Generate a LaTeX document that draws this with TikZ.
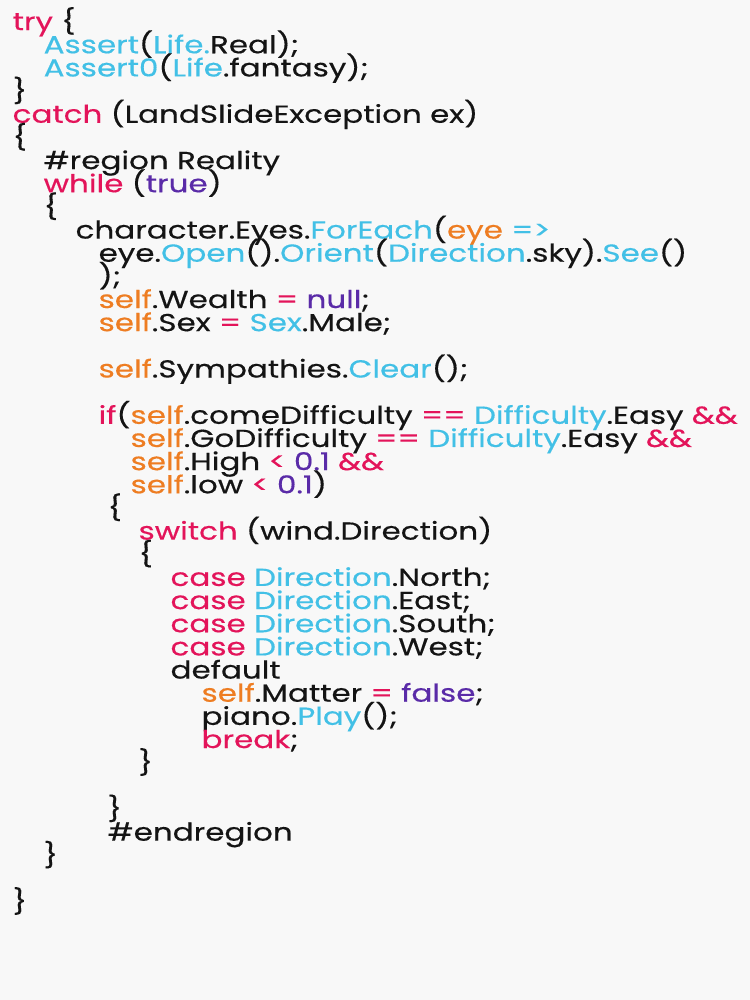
\documentclass[tikz,border=0pt]{standalone}
\usepackage{fontspec}
\setmainfont{Poppins}[FakeStretch=1.26, FakeBold=0.4]
\definecolor{bgcol}{HTML}{F8F8F8}
\definecolor{kwcol}{HTML}{E3145A}
\definecolor{tycol}{HTML}{42C0E6}
\definecolor{slcol}{HTML}{EE7D22}
\definecolor{vlcol}{HTML}{5A2BA8}
\definecolor{txcol}{HTML}{141414}
\newcommand\ckw[1]{\textcolor{kwcol}{#1}}
\newcommand\cty[1]{\textcolor{tycol}{#1}}
\newcommand\csl[1]{\textcolor{slcol}{#1}}
\newcommand\cvl[1]{\textcolor{vlcol}{#1}}
\begin{document}
\begin{tikzpicture}[x=0.01cm, y=-0.2316cm,
    code/.style={anchor=base west, inner sep=0pt, text=txcol, font=\fontsize{7}{8}\selectfont}]
  \fill[bgcol] (0,0) rectangle (750,43.18);
  \node[code] (try) at (12,1.3) {\ckw{try} \{};
  \node[code] (assert) at (43,2.3) {\cty{Assert}(\cty{Life.}Real);};
  \node[code] (assertz) at (43,3.3) {\cty{Assert0}(\cty{Life}.fantasy);};
  \node[code] (tryend) at (12,4.3) {\}};
  \node[code] (catch) at (12,5.3) {\ckw{catch} (LandSlideException ex)};
  \node[code] (catchbeg) at (12,6.3) {\{};
  \node[code] (region) at (43,7.3) {\#region Reality};
  \node[code] (while) at (43,8.3) {\ckw{while} (\cvl{true})};
  \node[code] (whilebeg) at (43,9.3) {\{};
  \node[code] (foreach) at (75,10.3) {character.Eyes.\cty{ForEach}(\csl{eye} \cty{=>}};
  \node[code] (eye) at (98,11.3) {eye.\cty{Open}().\cty{Orient}(\cty{Direction}.sky).\cty{See}()};
  \node[code] (eyeend) at (98,12.3) {);};
  \node[code] (wealth) at (98,13.3) {\csl{self}.Wealth \ckw{=} \cvl{null};};
  \node[code] (sex) at (98,14.3) {\csl{self}.Sex \ckw{=} \cty{Sex}.Male;};
  \node[code] (symp) at (98,16.3) {\csl{self}.Sympathies.\cty{Clear}();};
  % the if condition
  \node[code] (if) at (98,18.3) {\ckw{if}(\csl{self}.comeDifficulty \ckw{==} \cty{Difficulty}.Easy \ckw{\&\&}};
  \node[code] (go) at (130,19.3) {\csl{self}.GoDifficulty \ckw{==} \cty{Difficulty}.Easy \ckw{\&\&}};
  \node[code] (high) at (130,20.3) {\csl{self}.High \ckw{<} \cvl{0.1} \ckw{\&\&}};
  \node[code] (low) at (130,21.3) {\csl{self}.low \ckw{<} \cvl{0.1})};
  \node[code] (ifbeg) at (107,22.3) {\{};
  \node[code] (switch) at (138,23.3) {\ckw{switch} (wind.Direction)};
  \node[code] (switchbeg) at (138,24.3) {\{};
  \foreach \d [count=\i from 25] in {North,East,South,West}
    \node[code] (case\d) at (170,\i+0.3) {\ckw{case} \cty{Direction}.\d;};
  \node[code] (default) at (170,29.3) {default};
  \node[code] (matter) at (201,30.3) {\csl{self}.Matter \ckw{=} \cvl{false};};
  \node[code] (piano) at (201,31.3) {piano.\cty{Play}();};
  \node[code] (break) at (201,32.3) {\ckw{break};};
  \node[code] (switchend) at (138,33.3) {\}};
  \node[code] (ifend) at (107,35.3) {\}};
  \node[code] (endregion) at (107,36.3) {\#endregion};
  \node[code] (whileend) at (43,37.3) {\}};
  \node[code] (catchend) at (12,39.3) {\}};
\end{tikzpicture}
\end{document}
